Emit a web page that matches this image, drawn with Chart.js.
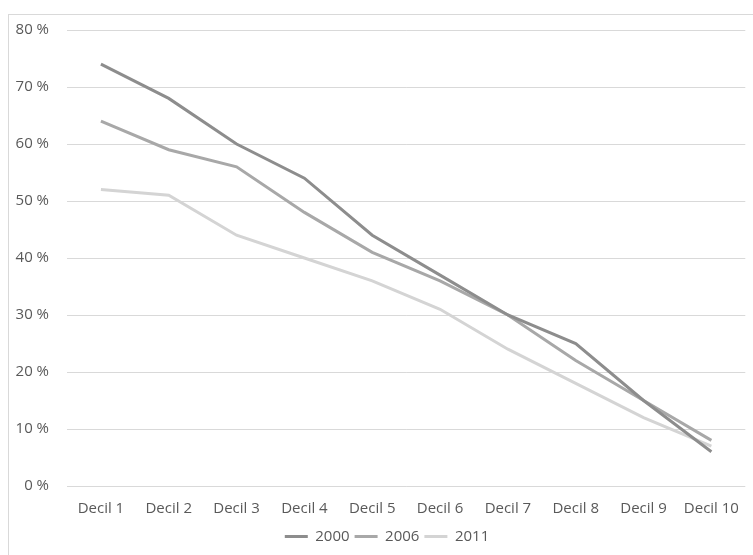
<!DOCTYPE html>
<html>
<head>
<meta charset="utf-8">
<script src="https://cdn.jsdelivr.net/npm/chart.js@4"></script>
<style>
  html, body { margin: 0; padding: 0; background: #fff; }
  #wrap { position: relative; width: 753px; height: 555px; overflow: hidden; }
  #frame { position: absolute; left: 8px; top: 14px; width: 800px; height: 600px; border: 1px solid #d9d9d9; box-sizing: border-box; }
  #trend-chart { position: absolute; left: 0; top: 0; }
</style>
</head>
<body>
<div id="wrap">
  <div id="frame"></div>
  <canvas id="trend-chart" width="753" height="555"></canvas>
</div>
<script>
const deciles = ['Decil 1', 'Decil 2', 'Decil 3', 'Decil 4', 'Decil 5', 'Decil 6', 'Decil 7', 'Decil 8', 'Decil 9', 'Decil 10'];
const share2000 = [74, 68, 60, 54, 44, 37, 30, 25, 15, 6];
const share2006 = [64, 59, 56, 48, 41, 36, 30, 22, 15, 8];
const share2011 = [52, 51, 44, 40, 36, 31, 24, 18, 12, 7];

const textColor = '#595959';
const gridColor = '#d9d9d9';
const labelFont = { family: 'Open Sans', size: 15 };

function line(label, data, color) {
    return {
        label: label,
        data: data,
        borderColor: color,
        backgroundColor: color,
        borderWidth: 3,
        pointRadius: 0,
        tension: 0,
        fill: false
    };
}

// nudge the legend so it sits centred under the plot area rather than the canvas
const legendShift = {
    id: 'legendShift',
    afterLayout(chart) {
        chart.legend.left += 11;
        chart.legend.right += 11;
    }
};

function init() {
    const ctx = document.getElementById('trend-chart').getContext('2d');
    window.trendChart = new Chart(ctx, {
        type: 'line',
        data: {
            labels: deciles,
            datasets: [
                line('2000', share2000, '#8d8d8d'),
                line('2006', share2006, '#a8a8a8'),
                line('2011', share2011, '#d4d4d4')
            ]
        },
        plugins: [legendShift],
        options: {
            responsive: false,
            animation: false,
            layout: { padding: { top: 30, right: 1, left: 0, bottom: 1 } },
            plugins: {
                tooltip: { enabled: false },
                legend: {
                    position: 'bottom',
                    labels: {
                        color: textColor,
                        font: labelFont,
                        usePointStyle: true,
                        pointStyle: 'line',
                        pointStyleWidth: 23,
                        boxHeight: 15,
                        padding: 5
                    }
                }
            },
            scales: {
                x: {
                    offset: true,
                    grid: { display: false, drawTicks: false },
                    border: { display: false },
                    ticks: {
                        color: textColor,
                        font: labelFont,
                        maxRotation: 0,
                        autoSkip: false,
                        padding: 14
                    },
                    afterFit: function (scale) { scale.height = 38; }
                },
                y: {
                    min: 0,
                    max: 80,
                    grid: { color: gridColor, lineWidth: 1, drawTicks: false },
                    border: { display: false },
                    ticks: {
                        stepSize: 10,
                        color: textColor,
                        font: labelFont,
                        padding: 18,
                        callback: function (v) { return v + ' %'; }
                    },
                    afterFit: function (scale) { scale.width = 67; }
                }
            }
        }
    });
}

document.addEventListener('DOMContentLoaded', init);
</script>
</body>
</html>
